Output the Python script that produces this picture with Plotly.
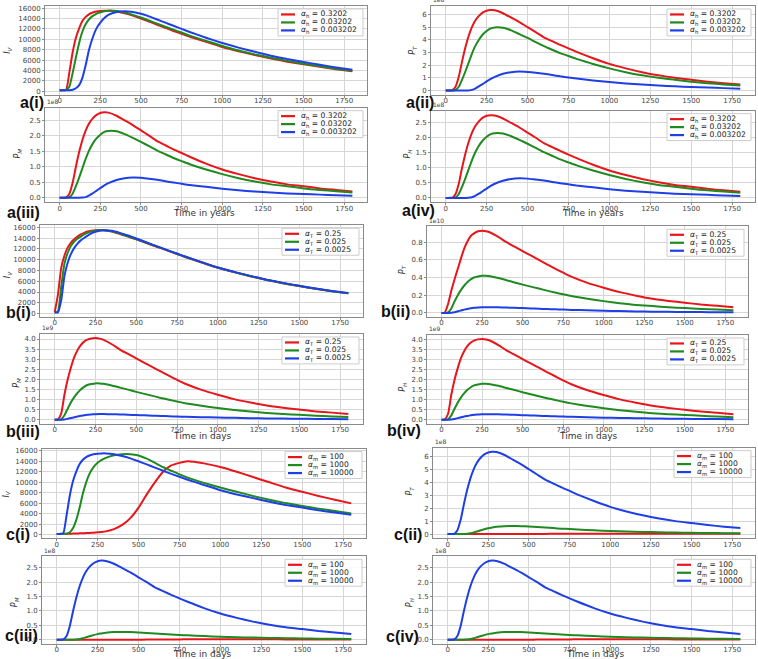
import plotly.graph_objects as go

# ---------------- data ----------------
T = [0, 20, 40, 60, 80, 100, 120, 140, 160, 180, 200, 225, 250, 275, 300, 350, 400, 450,
     500, 550, 600, 650, 700, 750, 800, 900, 1000, 1100, 1200, 1300, 1400, 1500, 1600, 1700, 1800]

# (a) varying alpha_h
A_I_red = [200, 200, 300, 3700, 7500, 10300, 12100, 13500, 14300, 14800, 15100, 15350, 15450, 15500, 15500, 15350, 15000, 14550,
           14000, 13400, 12800, 12200, 11600, 11050, 10500, 9500, 8500, 7700, 7000, 6300, 5700, 5200, 4700, 4250, 3850]
A_I_green = [200, 200, 250, 900, 3500, 6500, 9300, 11500, 12900, 13800, 14400, 14900, 15200, 15400, 15500, 15450, 15150, 14700,
             14200, 13600, 13000, 12400, 11850, 11300, 10700, 9700, 8700, 7850, 7100, 6450, 5850, 5300, 4800, 4350, 3950]
A_I_blue = [200, 200, 200, 220, 300, 600, 1200, 2600, 5000, 7900, 10000, 12000, 13200, 14100, 14700, 15250, 15400, 15250,
            14900, 14400, 13800, 13200, 12600, 12000, 11400, 10300, 9300, 8400, 7600, 6850, 6200, 5650, 5100, 4600, 4150]
A_PT_red = [0, 0, 0.02, 0.3, 1.1, 2.3, 3.4, 4.3, 5.0, 5.5, 5.85, 6.15, 6.3, 6.35, 6.33, 6.1, 5.75, 5.4,
            5.0, 4.6, 4.2, 3.9, 3.6, 3.33, 3.05, 2.55, 2.1, 1.75, 1.45, 1.2, 1.0, 0.85, 0.7, 0.57, 0.47]
A_PT_green = [0, 0, 0, 0.05, 0.3, 0.85, 1.5, 2.2, 2.9, 3.5, 3.95, 4.4, 4.7, 4.9, 4.98, 4.95, 4.75, 4.45,
              4.15, 3.82, 3.5, 3.22, 2.95, 2.72, 2.5, 2.1, 1.75, 1.45, 1.2, 1.0, 0.85, 0.7, 0.58, 0.48, 0.4]
A_PT_blue = [0, 0, 0, 0, 0, 0, 0, 0.01, 0.05, 0.15, 0.3, 0.5, 0.72, 0.92, 1.08, 1.32, 1.45, 1.5,
             1.47, 1.41, 1.33, 1.23, 1.12, 1.03, 0.95, 0.8, 0.67, 0.56, 0.47, 0.4, 0.33, 0.27, 0.23, 0.19, 0.15]
A_PM_red = [0, 0, 0.01, 0.13, 0.48, 1.0, 1.47, 1.86, 2.16, 2.38, 2.53, 2.66, 2.73, 2.75, 2.74, 2.64, 2.49, 2.34,
            2.17, 2.0, 1.82, 1.69, 1.56, 1.44, 1.32, 1.1, 0.91, 0.76, 0.63, 0.52, 0.43, 0.37, 0.3, 0.25, 0.2]
A_PM_green = [0, 0, 0, 0.02, 0.13, 0.37, 0.65, 0.95, 1.25, 1.51, 1.71, 1.9, 2.03, 2.12, 2.15, 2.14, 2.05, 1.93,
              1.8, 1.66, 1.52, 1.4, 1.28, 1.18, 1.08, 0.91, 0.76, 0.63, 0.52, 0.43, 0.37, 0.3, 0.25, 0.21, 0.17]
A_PM_blue = [0, 0, 0, 0, 0, 0, 0, 0.004, 0.02, 0.065, 0.13, 0.22, 0.31, 0.4, 0.47, 0.57, 0.63, 0.65,
             0.64, 0.61, 0.58, 0.53, 0.49, 0.45, 0.41, 0.35, 0.29, 0.24, 0.2, 0.17, 0.14, 0.12, 0.1, 0.08, 0.065]

# (b) varying alpha_T
B_I_red = [200, 3500, 8500, 10800, 12300, 13200, 13800, 14300, 14700, 15000, 15250, 15400, 15500, 15550, 15500, 15250, 14800, 14300,
           13800, 13250, 12700, 12150, 11600, 11050, 10500, 9500, 8500, 7700, 6950, 6250, 5650, 5100, 4600, 4150, 3750]
B_I_green = [200, 400, 5000, 9300, 11300, 12600, 13400, 13900, 14300, 14700, 15000, 15250, 15400, 15500, 15500, 15300, 14850, 14350,
             13850, 13300, 12750, 12200, 11650, 11100, 10550, 9550, 8550, 7700, 6950, 6250, 5650, 5100, 4600, 4150, 3750]
B_I_blue = [200, 200, 2500, 7000, 9500, 11100, 12200, 13000, 13600, 14050, 14450, 14900, 15200, 15400, 15500, 15400, 15000, 14500,
            13950, 13400, 12800, 12250, 11700, 11150, 10600, 9550, 8550, 7750, 7000, 6300, 5700, 5150, 4650, 4200, 3800]
B_PT_red = [0, 0.005, 0.1, 0.25, 0.38, 0.5, 0.62, 0.73, 0.81, 0.87, 0.9, 0.925, 0.93, 0.925, 0.91, 0.86, 0.8, 0.75,
            0.7, 0.65, 0.6, 0.55, 0.5, 0.455, 0.41, 0.34, 0.285, 0.235, 0.195, 0.16, 0.135, 0.115, 0.095, 0.08, 0.065]
B_PT_green = [0, 0, 0.005, 0.05, 0.13, 0.2, 0.26, 0.31, 0.35, 0.38, 0.4, 0.412, 0.42, 0.42, 0.415, 0.395, 0.37, 0.345,
              0.32, 0.297, 0.275, 0.252, 0.23, 0.21, 0.19, 0.16, 0.133, 0.11, 0.09, 0.077, 0.064, 0.054, 0.045, 0.037, 0.031]
B_PT_blue = [0, 0, 0, 0.002, 0.008, 0.018, 0.028, 0.037, 0.045, 0.052, 0.057, 0.061, 0.064, 0.065, 0.065, 0.063, 0.06, 0.057,
             0.054, 0.05, 0.047, 0.043, 0.04, 0.037, 0.034, 0.029, 0.024, 0.02, 0.017, 0.014, 0.012, 0.01, 0.009, 0.007, 0.006]
B_PM_red = [0, 0.02, 0.3, 1.25, 2.0, 2.6, 3.1, 3.45, 3.7, 3.87, 3.97, 4.03, 4.05, 4.02, 3.96, 3.74, 3.48, 3.26,
            3.04, 2.82, 2.61, 2.39, 2.18, 1.97, 1.78, 1.48, 1.24, 1.02, 0.85, 0.7, 0.59, 0.5, 0.41, 0.35, 0.28]
B_PM_green = [0, 0, 0.02, 0.22, 0.55, 0.86, 1.12, 1.33, 1.5, 1.63, 1.72, 1.77, 1.8, 1.8, 1.78, 1.7, 1.59, 1.49,
              1.38, 1.28, 1.18, 1.08, 0.99, 0.9, 0.82, 0.69, 0.58, 0.48, 0.4, 0.33, 0.28, 0.24, 0.2, 0.16, 0.13]
B_PM_blue = [0, 0, 0, 0.01, 0.04, 0.08, 0.12, 0.16, 0.19, 0.22, 0.245, 0.26, 0.275, 0.28, 0.28, 0.27, 0.26, 0.245,
             0.23, 0.215, 0.2, 0.185, 0.17, 0.157, 0.145, 0.125, 0.105, 0.09, 0.075, 0.063, 0.053, 0.045, 0.038, 0.032, 0.027]

# (c) varying alpha_m (alpha_m = 10000 is the base run shown in blue)
C_I_red = [200, 200, 210, 220, 240, 260, 280, 300, 320, 350, 390, 440, 500, 570, 680, 1100, 1900, 3200,
           5200, 7700, 10000, 12000, 13200, 13700, 14000, 13600, 12900, 12000, 11000, 10000, 9000, 8200, 7400, 6700, 6000]
C_I_green = [200, 200, 200, 250, 500, 1300, 2900, 5200, 7900, 10000, 11600, 12900, 13700, 14250, 14650, 15150, 15350, 15350,
             15100, 14500, 13700, 12900, 12200, 11500, 10900, 9900, 9000, 8200, 7400, 6700, 6050, 5500, 5000, 4550, 4100]
C_I_blue = [200, 200, 300, 3700, 7500, 10300, 12100, 13500, 14300, 14800, 15100, 15350, 15450, 15500, 15500, 15350, 15000, 14550,
            14000, 13400, 12800, 12200, 11600, 11050, 10500, 9500, 8500, 7700, 7000, 6300, 5700, 5200, 4700, 4250, 3850]
C_PT_red = [0, 0, 0, 0, 0, 0, 0, 0, 0, 0, 0, 0, 0, 0, 0, 0, 0, 0.002,
            0.005, 0.01, 0.015, 0.02, 0.025, 0.028, 0.03, 0.032, 0.032, 0.031, 0.03, 0.029, 0.027, 0.026, 0.024, 0.022, 0.02]
C_PT_green = [0, 0, 0, 0, 0, 0.005, 0.02, 0.06, 0.12, 0.2, 0.28, 0.37, 0.45, 0.51, 0.56, 0.61, 0.62, 0.61,
              0.58, 0.54, 0.5, 0.46, 0.42, 0.385, 0.35, 0.29, 0.24, 0.2, 0.17, 0.14, 0.12, 0.1, 0.085, 0.07, 0.06]
C_PT_blue = [0, 0, 0.02, 0.3, 1.1, 2.3, 3.4, 4.3, 5.0, 5.5, 5.85, 6.15, 6.3, 6.35, 6.33, 6.1, 5.75, 5.4,
             5.0, 4.6, 4.2, 3.9, 3.6, 3.33, 3.05, 2.55, 2.1, 1.75, 1.45, 1.2, 1.0, 0.85, 0.7, 0.57, 0.47]
C_PM_red = [0, 0, 0, 0, 0, 0, 0, 0, 0, 0, 0, 0, 0, 0, 0, 0, 0, 0.001,
            0.002, 0.004, 0.0065, 0.009, 0.011, 0.012, 0.013, 0.014, 0.014, 0.014, 0.013, 0.0125, 0.012, 0.011, 0.0105, 0.0095, 0.009]
C_PM_green = [0, 0, 0, 0, 0, 0.002, 0.009, 0.026, 0.052, 0.087, 0.12, 0.16, 0.195, 0.22, 0.243, 0.265, 0.27, 0.265,
              0.252, 0.235, 0.217, 0.2, 0.183, 0.167, 0.152, 0.126, 0.104, 0.087, 0.074, 0.061, 0.052, 0.043, 0.037, 0.03, 0.026]
C_PM_blue = [0, 0, 0.01, 0.13, 0.48, 1.0, 1.47, 1.86, 2.16, 2.38, 2.53, 2.66, 2.73, 2.75, 2.74, 2.64, 2.49, 2.34,
             2.17, 2.0, 1.82, 1.69, 1.56, 1.44, 1.32, 1.1, 0.91, 0.76, 0.63, 0.52, 0.43, 0.37, 0.3, 0.25, 0.2]

LEG_A = ["<i>α</i><sub>h</sub> = 0.3202", "<i>α</i><sub>h</sub> = 0.03202", "<i>α</i><sub>h</sub> = 0.003202"]
LEG_B = ["<i>α</i><sub>T</sub> = 0.25", "<i>α</i><sub>T</sub> = 0.025", "<i>α</i><sub>T</sub> = 0.0025"]
LEG_C = ["<i>α</i><sub>m</sub> = 100", "<i>α</i><sub>m</sub> = 1000", "<i>α</i><sub>m</sub> = 10000"]
X_TICKS = [0, 250, 500, 750, 1000, 1250, 1500, 1750]

# ---------------- styling / layout ----------------
W, H = 758, 659
COLORS = ["#e8161b", "#1f8a1f", "#1f3fe6"]
I_TICKS = [0, 2000, 4000, 6000, 8000, 10000, 12000, 14000, 16000]

# name, frame px (x0, x1, y0, y1), series, legend, ylabel, exponent, yrange, yticks, fmt, panel label, ylabel pos, xtitle, legend width
panels = [
    ("a(i)",   (45, 367, 5, 94),    (A_I_red, A_I_green, A_I_blue),    LEG_A, "I", "V", "", [-650, 16400], I_TICKS, "d", (18, 102), (8, 50), None, 85),
    ("a(ii)",  (431, 755, 5, 94),   (A_PT_red, A_PT_green, A_PT_blue), LEG_A, "P", "T", "1e8", [-0.33, 6.67], [0, 1, 2, 3, 4, 5, 6], "d", (404, 102), (413, 50), None, 84),
    ("a(iii)", (45, 367, 107, 202), (A_PM_red, A_PM_green, A_PM_blue), LEG_A, "P", "M", "1e8", [-0.15, 2.9], [0, 0.5, 1, 1.5, 2, 2.5], ".1f", (5, 212), (18, 153), ("Time in years", 204, 213), 85),
    ("a(iv)",  (431, 755, 110, 202), (A_PM_red, A_PM_green, A_PM_blue), LEG_A, "P", "H", "1e8", [-0.15, 2.9], [0, 0.5, 1, 1.5, 2, 2.5], ".1f", (400, 210), (408, 153), ("Time in years", 593, 213), 84),
    ("b(i)",   (40, 363, 225, 317), (B_I_red, B_I_green, B_I_blue),    LEG_B, "I", "V", "", [-650, 16400], I_TICKS, "d", (4, 312), (8, 275), None, 77),
    ("b(ii)",  (427, 748, 226, 317), (B_PT_red, B_PT_green, B_PT_blue), LEG_B, "P", "T", "1e10", [-0.047, 0.98], [0, 0.2, 0.4, 0.6, 0.8], ".1f", (379, 311), (403, 270), None, 77),
    ("b(iii)", (40, 363, 334, 424), (B_PM_red, B_PM_green, B_PM_blue), LEG_B, "P", "M", "1e9", [-0.2, 4.25], [0, 0.5, 1, 1.5, 2, 2.5, 3, 3.5, 4], ".1f", (4, 432), (17, 383), ("Time in days", 202, 436), 77),
    ("b(iv)",  (427, 748, 335, 424), (B_PM_red, B_PM_green, B_PM_blue), LEG_B, "P", "H", "1e9", [-0.2, 4.25], [0, 0.5, 1, 1.5, 2, 2.5, 3, 3.5, 4], ".1f", (385, 431), (403, 387), ("Time in days", 588, 436), 77),
    ("c(i)",   (42, 366, 449, 539), (C_I_red, C_I_green, C_I_blue),    LEG_C, "I", "V", "", [-650, 16400], I_TICKS, "d", (4, 535), (7, 495), None, 77),
    ("c(ii)",  (433, 755, 448, 539), (C_PT_red, C_PT_green, C_PT_blue), LEG_C, "P", "T", "1e8", [-0.33, 6.67], [0, 1, 2, 3, 4, 5, 6], "d", (392, 535), (410, 492), None, 77),
    ("c(iii)", (42, 366, 557, 645), (C_PM_red, C_PM_green, C_PM_blue), LEG_C, "P", "M", "1e8", [-0.15, 2.9], [0, 0.5, 1, 1.5, 2, 2.5], ".1f", (3, 636), (15, 603), ("Time in days", 202, 655), 77),
    ("c(iv)",  (433, 755, 557, 645), (C_PM_red, C_PM_green, C_PM_blue), LEG_C, "P", "H", "1e8", [-0.15, 2.9], [0, 0.5, 1, 1.5, 2, 2.5], ".1f", (384, 637), (410, 603), ("Time in days", 595, 655), 77),
]

fig = go.Figure()
annotations = []
shapes = []
layout = {}


def px(x):
    return x / W


def py(y):
    return 1 - y / H


for i, (name, (x0, x1, y0, y1), series, legend, ysym, ysub, expo, yr, yt, fmt, lab, ylab, xtitle, lw) in enumerate(panels, start=1):
    sfx = "" if i == 1 else str(i)
    for vals, col in zip(series, COLORS):
        fig.add_trace(go.Scatter(x=T, y=vals, mode="lines", showlegend=False,
                                 line=dict(color=col, width=2, shape="spline", smoothing=0.5),
                                 xaxis="x" + sfx, yaxis="y" + sfx, hoverinfo="skip"))
    common = dict(showline=True, mirror=True, linecolor="#8a8a8a", linewidth=1,
                  showgrid=True, gridcolor="#d6d6d6", gridwidth=1, zeroline=False,
                  ticks="outside", ticklen=2, tickcolor="#8a8a8a",
                  tickfont=dict(family="DejaVu Sans", size=7, color="#444"))
    layout["xaxis" + sfx] = dict(domain=[px(x0), px(x1)], anchor="y" + sfx, range=[-90, 1890],
                                 tickvals=X_TICKS, tickformat="d", ticklabelstandoff=-3, **common)
    layout["yaxis" + sfx] = dict(domain=[py(y1), py(y0)], anchor="x" + sfx, range=yr,
                                 tickvals=yt, tickformat=fmt, **common)
    if expo:
        annotations.append(dict(x=px(x0), y=py(y0 - 0.5), xref="paper", yref="paper", text=expo,
                                showarrow=False, xanchor="left", yanchor="bottom",
                                font=dict(family="DejaVu Sans", size=6, color="#444")))
    annotations.append(dict(x=px(ylab[0]), y=py(ylab[1]), xref="paper", yref="paper",
                            text="<i>%s</i><sub><i>%s</i></sub>" % (ysym, ysub), textangle=-90,
                            showarrow=False, xanchor="center", yanchor="middle",
                            font=dict(family="DejaVu Sans", size=8, color="#333")))
    annotations.append(dict(x=px(lab[0]), y=py(lab[1]), xref="paper", yref="paper",
                            text="<b>%s</b>" % name, showarrow=False, xanchor="left", yanchor="middle",
                            font=dict(family="Liberation Sans", size=16, color="#111")))
    if xtitle:
        annotations.append(dict(x=px(xtitle[1]), y=py(xtitle[2]), xref="paper", yref="paper",
                                text=xtitle[0], showarrow=False, xanchor="center", yanchor="middle",
                                font=dict(family="DejaVu Sans", size=9, color="#333")))
    bx1 = x1 - 4
    bx0 = bx1 - lw
    by0 = y0 + 3
    by1 = by0 + 27
    shapes.append(dict(type="rect", xref="paper", yref="paper", x0=px(bx0), x1=px(bx1), y0=py(by1), y1=py(by0),
                       fillcolor="rgba(255,255,255,0.9)", line=dict(color="#cccccc", width=1)))
    for k, (txt, col) in enumerate(zip(legend, COLORS)):
        yy = by0 + 5.5 + 8 * k
        shapes.append(dict(type="line", xref="paper", yref="paper", x0=px(bx0 + 3), x1=px(bx0 + 17),
                           y0=py(yy), y1=py(yy), line=dict(color=col, width=2.2)))
        annotations.append(dict(x=px(bx0 + 21), y=py(yy), xref="paper", yref="paper", text=txt,
                                showarrow=False, xanchor="left", yanchor="middle",
                                font=dict(family="DejaVu Sans", size=7.6, color="#222")))

fig.update_layout(width=W, height=H, margin=dict(l=0, r=0, t=0, b=0),
                  paper_bgcolor="white", plot_bgcolor="white",
                  annotations=annotations, shapes=shapes, showlegend=False, **layout)

fig.write_html("out.html", config={"displayModeBar": False},
               post_script="document.body.style.margin='0';document.body.style.overflow='hidden';")
